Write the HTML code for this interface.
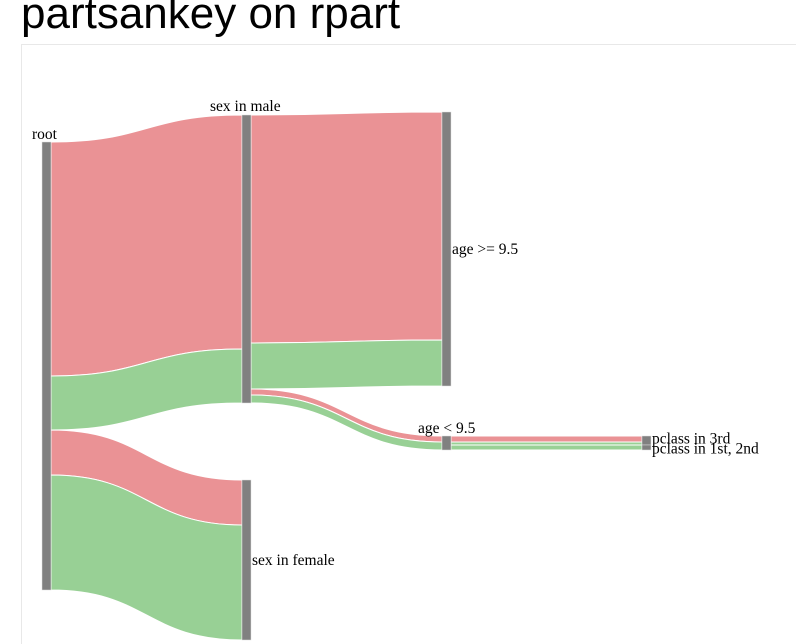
<!DOCTYPE html>
<html style="overflow:hidden;height:644px"><head><meta charset="utf-8"><style>
body{margin:0;background:#fff;width:796px;height:644px;overflow:hidden;position:relative;font-family:"Liberation Sans",sans-serif}
h1{position:absolute;left:21px;top:-11px;margin:0;font-weight:normal;font-size:44px;color:#000}
#frame{position:absolute;left:21px;top:44px;width:800px;height:620px;border:1px solid #e8e8e8;border-bottom:none}
svg{position:absolute;left:0;top:0}
text{font-family:"Liberation Serif",serif;font-size:15.5px}
</style></head><body>
<h1>partsankey on rpart</h1>
<div id="frame"></div>
<svg id="s" width="796" height="644"></svg>
<script>
const nodeNames=["root","sex in male","sex in female","age >= 9.5","age < 9.5","pclass in 3rd","pclass in 1st, 2nd"];
const linkSource=[0,0,0,0,1,1,1,1,4,4,4];
const linkTarget=[1,1,2,2,3,3,4,4,5,5,6];
const linkClass=["died","survived","died","survived","died","survived","died","survived","died","survived","survived"];
const linkValue=[234,54,45,115,228,46,6,8,6,3,5];
// layout (not data)
const nodeX=[42,242,242,442,442,642,642];
const nodeTop=[142,115,480,112,436,436,445];
const labelPos=[["start",-10,-3],["start",-32,-4],["right"],["right"],["start",-24,-3],["right",0,-2],["right",0,1]];
const W=9, colors={died:"#ea9295",survived:"#98d095"};
const svg=document.getElementById('s'),NS="http://www.w3.org/2000/svg";
const outOff=nodeX.map(()=>0), inOff=nodeX.map(()=>0), nodeH=nodeX.map(()=>0);
for(let n=0;n<nodeNames.length;n++){
  let a=0,b=0;linkValue.forEach((v,i)=>{if(linkSource[i]===n)a+=v;if(linkTarget[i]===n)b+=v;});
  nodeH[n]=Math.max(a,b);
}
linkValue.forEach((v,i)=>{
  const s=linkSource[i],t=linkTarget[i];
  const y0=nodeTop[s]+outOff[s],y1=nodeTop[t]+inOff[t];
  outOff[s]+=v;inOff[t]+=v;
  const x0=nodeX[s]+W,x1=nodeX[t],xm=(x0+x1)/2;
  const p=document.createElementNS(NS,'path');
  p.setAttribute('d',`M${x0},${y0}C${xm},${y0} ${xm},${y1} ${x1},${y1}L${x1},${y1+v}C${xm},${y1+v} ${xm},${y0+v} ${x0},${y0+v}Z`);
  p.setAttribute('fill',colors[linkClass[i]]);
  p.setAttribute('stroke','#fff');p.setAttribute('stroke-width','1');
  
  
  svg.appendChild(p);
});
nodeNames.forEach((name,n)=>{
  const r=document.createElementNS(NS,'rect');
  r.setAttribute('x',nodeX[n]);r.setAttribute('y',nodeTop[n]);
  r.setAttribute('width',W);r.setAttribute('height',nodeH[n]);
  r.setAttribute('fill','#808080');r.setAttribute('stroke','#e0e0e0');r.setAttribute('stroke-width','0.5');
  
  
  svg.appendChild(r);
  const t=document.createElementNS(NS,'text');
  const lp=labelPos[n];
  if(lp[0]==="right"){t.setAttribute('x',nodeX[n]+W+1);t.setAttribute('y',nodeTop[n]+nodeH[n]/2+5+(lp[2]||0));}
  else{t.setAttribute('x',nodeX[n]+lp[1]);t.setAttribute('y',nodeTop[n]+lp[2]);}
  t.textContent=name;
  
  
  svg.appendChild(t);
});
</script>
</body></html>
